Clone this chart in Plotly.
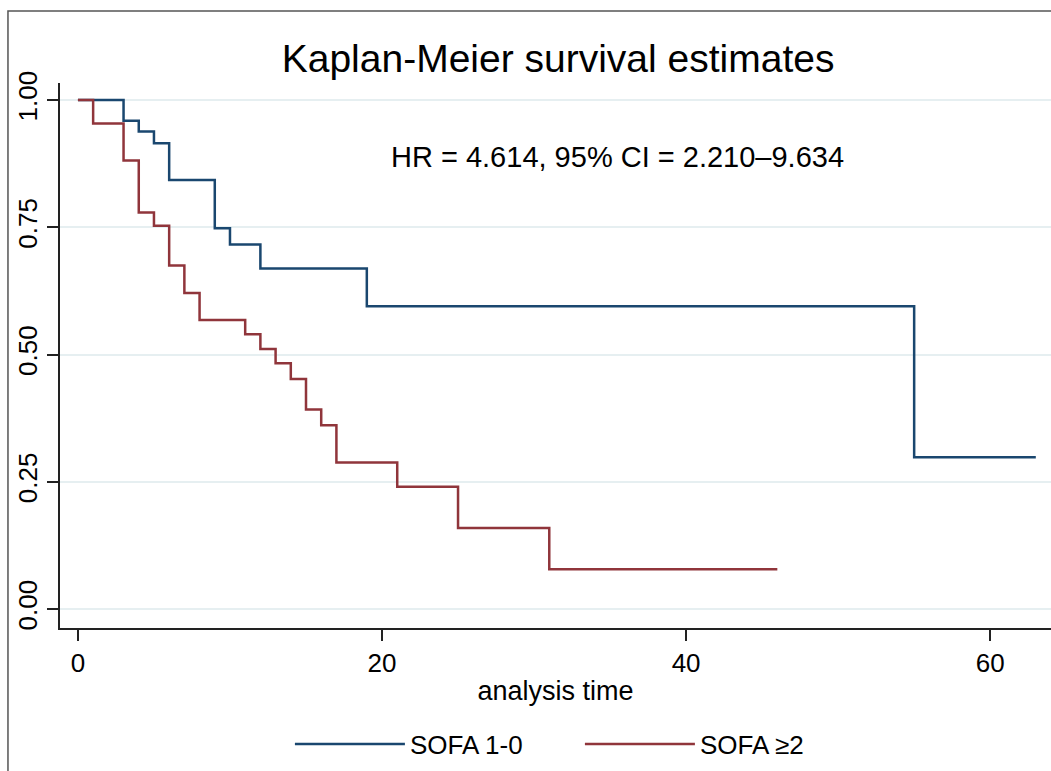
import plotly.graph_objects as go

# ---- data ----
time_sofa_low = [0, 3, 4, 5, 6, 9, 10, 12, 19, 55, 63]
surv_sofa_low = [1.0, 0.959, 0.938, 0.915, 0.843, 0.748, 0.716, 0.669, 0.595, 0.298, 0.298]

time_sofa_high = [0, 1, 3, 4, 5, 6, 7, 8, 11, 12, 13, 14, 15, 16, 17, 21, 25, 31, 46]
surv_sofa_high = [1.0, 0.954, 0.881, 0.779, 0.753, 0.675, 0.621, 0.568, 0.540, 0.511,
                  0.483, 0.452, 0.392, 0.361, 0.288, 0.240, 0.159, 0.078, 0.078]

series_names = ["SOFA 1-0", "SOFA ≥2"]
x_ticks = [0, 20, 40, 60]
y_ticks = [0.0, 0.25, 0.5, 0.75, 1.0]
y_tick_labels = ["0.00", "0.25", "0.50", "0.75", "1.00"]
title_text = "Kaplan-Meier survival estimates"
hr_text = "HR = 4.614, 95% CI = 2.210–9.634"
x_title = "analysis time"

FONT = "Liberation Sans, Arial, sans-serif"
BLUE = "#1a476f"
RED = "#90353b"

fig = go.Figure()
fig.add_trace(go.Scatter(x=time_sofa_low, y=surv_sofa_low, mode="lines",
                         line=dict(shape="hv", color=BLUE, width=2.5),
                         name=series_names[0]))
fig.add_trace(go.Scatter(x=time_sofa_high, y=surv_sofa_high, mode="lines",
                         line=dict(shape="hv", color=RED, width=2.5),
                         name=series_names[1]))

fig.add_annotation(x=35.46, y=0.888, xref="x", yref="y", text=hr_text,
                   showarrow=False, font=dict(family=FONT, size=29, color="black"),
                   xanchor="center", yanchor="middle")

# outer graph-region border (cropped on right/bottom in the reference)
fig.add_shape(type="rect", xref="paper", yref="paper",
              x0=-0.0525, x1=1.2, y0=-0.5, y1=1.132,
              line=dict(color="#555555", width=1.5), fillcolor="rgba(0,0,0,0)",
              layer="above")

fig.update_layout(
    width=1051, height=771,
    margin=dict(l=60, r=0, t=83, b=143),
    paper_bgcolor="white", plot_bgcolor="white",
    font=dict(family=FONT, color="black"),
    title=dict(text=title_text, x=0.531, xanchor="center", y=1 - 58 / 771,
               yanchor="middle", yref="container",
               font=dict(family=FONT, size=39, color="black")),
    xaxis=dict(range=[-1.18, 64.0], tickvals=x_ticks, ticks="outside", ticklen=11,
               tickwidth=1.5, tickcolor="#222", showline=True, linecolor="#222",
               linewidth=1.5, showgrid=False, zeroline=False,
               tickfont=dict(family=FONT, size=26, color="black"),
               title=dict(text=x_title, font=dict(family=FONT, size=27, color="black"),
                          standoff=4)),
    yaxis=dict(range=[-0.0373, 1.0334], tickvals=y_ticks, ticktext=y_tick_labels,
               ticks="outside", ticklen=11, tickwidth=1.5, tickcolor="#222",
               showline=True, linecolor="#222", linewidth=1.5,
               showgrid=True, gridcolor="#e6eff1", gridwidth=2, zeroline=False,
               tickangle=-90, ticklabelstandoff=0,
               tickfont=dict(family=FONT, size=26, color="black")),
    legend=dict(orientation="h", x=0.232, xanchor="left", y=-0.213, yanchor="middle",
                font=dict(family=FONT, size=26, color="black"),
                itemwidth=110, entrywidth=165, bgcolor="rgba(0,0,0,0)"),
)

fig.write_html("out.html", config={"displayModeBar": False},
               post_script="document.body.style.margin='0';document.body.style.overflow='hidden';")
